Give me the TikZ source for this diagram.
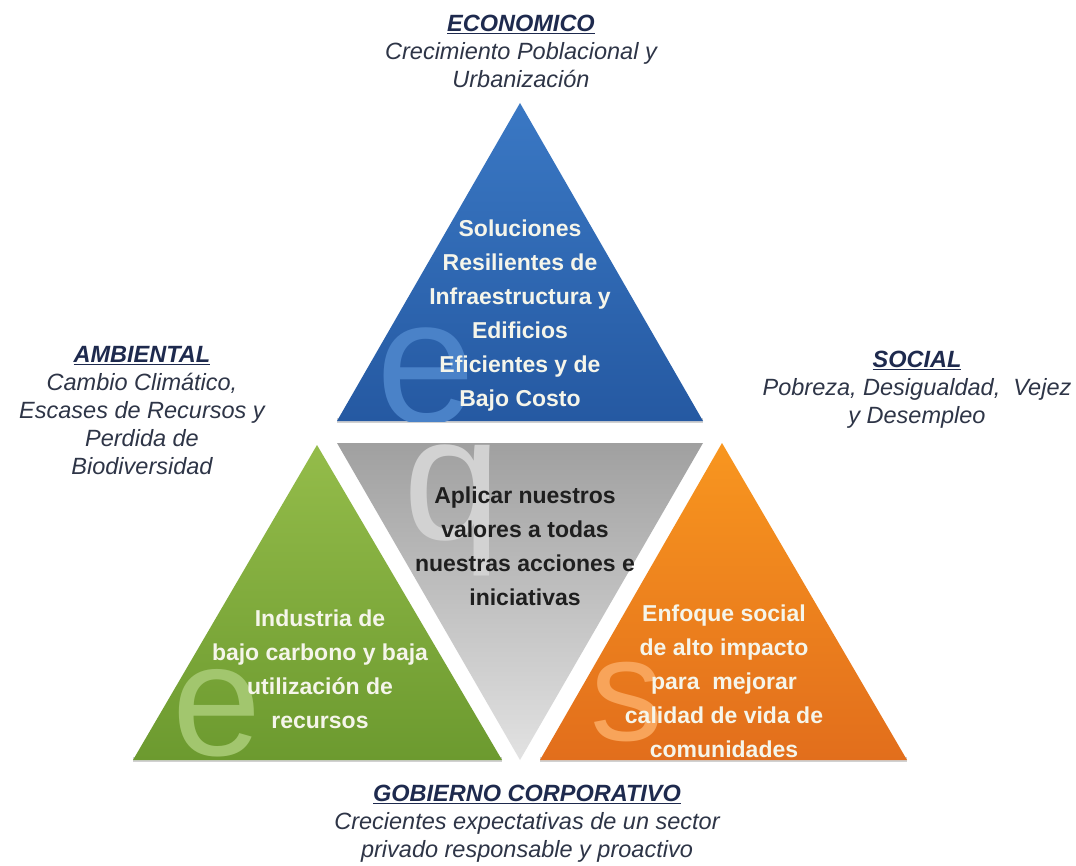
\documentclass[tikz,border=0pt]{standalone}
\usepackage{fontspec}
\setmainfont{Liberation Sans}
\definecolor{blueT}{HTML}{3A78C4}
\definecolor{blueB}{HTML}{2559A2}
\definecolor{grayT}{HTML}{A0A0A0}
\definecolor{grayB}{HTML}{E2E2E2}
\definecolor{greenT}{HTML}{94BC4A}
\definecolor{greenB}{HTML}{6C9A2F}
\definecolor{orangeT}{HTML}{F8961F}
\definecolor{orangeB}{HTML}{E26E1C}
\definecolor{labelc}{HTML}{2E3547}
\definecolor{headc}{HTML}{1E2A4E}
\definecolor{innerw}{HTML}{F5F5EA}
\definecolor{wmblue}{HTML}{4A82C8}
\definecolor{wmgreen}{HTML}{A2C66E}
\definecolor{wmgray}{HTML}{D2D2D2}
\definecolor{wmorange}{HTML}{F8A45A}
\begin{document}
\begin{tikzpicture}[x=1pt,y=-1pt,
  inner/.style={align=center,inner sep=0pt,font=\fontsize{23}{34}\selectfont\bfseries},
  outer/.style={align=center,inner sep=0pt,text=labelc,font=\fontsize{23.5}{28}\selectfont\itshape},
  wm/.style={inner sep=0pt,anchor=base}]
\useasboundingbox (0,0) rectangle (1076,866);
\fill[white] (0,0) rectangle (1076,866);
% corners
\coordinate (bA) at (520,103); \coordinate (bL) at (337,421); \coordinate (bR) at (703,421);
\coordinate (gL) at (337,443); \coordinate (gR) at (703,443); \coordinate (gA) at (520,760);
\coordinate (nA) at (317,445); \coordinate (nL) at (133,760); \coordinate (nR) at (502,760);
\coordinate (oA) at (722,443); \coordinate (oL) at (540,760); \coordinate (oR) at (907,760);
% soft shadows
\fill[black!18] ([yshift=3]bL) -- ([yshift=3]bR) -- ([yshift=-2]bR) -- ([yshift=-2]bL) -- cycle;
\fill[black!18] ([yshift=3]nL) -- ([yshift=3]nR) -- ([yshift=-2]nR) -- ([yshift=-2]nL) -- cycle;
\fill[black!18] ([yshift=3]oL) -- ([yshift=3]oR) -- ([yshift=-2]oR) -- ([yshift=-2]oL) -- cycle;
% triangles
\shade[top color=blueT,bottom color=blueB] (bA) -- (bL) -- (bR) -- cycle;
\shade[top color=grayT,bottom color=grayB] (gL) -- (gR) -- (gA) -- cycle;
\shade[top color=greenT,bottom color=greenB] (nA) -- (nL) -- (nR) -- cycle;
\shade[top color=orangeT,bottom color=orangeB] (oA) -- (oL) -- (oR) -- cycle;
% watermark letters
\begin{scope}
\clip (bA) -- (bL) -- (bR) -- cycle;
\node[wm,text=wmblue,font=\fontsize{178}{178}\selectfont] (we) at (426,423) {e};
\end{scope}
\begin{scope}
\clip (gL) -- (gR) -- (gA) -- cycle;
\node[wm,text=wmgray,font=\fontsize{176}{176}\selectfont] (wq) at (452,539) {q};
\end{scope}
\begin{scope}
\clip (nA) -- (nL) -- (nR) -- cycle;
\node[wm,text=wmgreen,font=\fontsize{160}{160}\selectfont] (wg) at (217,755) {e};
\end{scope}
\begin{scope}
\clip (oA) -- (oL) -- (oR) -- cycle;
\node[wm,text=wmorange,font=\fontsize{146}{146}\selectfont] (ws) at (627,740) {s};
\end{scope}
% inner texts
\node[inner,text=innerw] (tb) at (520,316) {Soluciones\\Resilientes de\\Infraestructura y\\Edificios\\Eficientes y de\\Bajo Costo};
\node[inner,text=black!88] (tg) at (525,546) {Aplicar nuestros\\valores a todas\\nuestras acciones e\\iniciativas};
\node[inner,text=innerw] (tn) at (320,669) {Industria de\\bajo carbono y baja\\utilización de\\recursos};
\node[inner,text=innerw] (to) at (724,681) {Enfoque social\\de alto impacto\\para\ \ mejorar\\calidad de vida de\\comunidades};
% outer labels
\node[outer] (eco) at (521,51) {\textcolor{headc}{\textbf{\underline{ECONOMICO}}}\\Crecimiento Poblacional y\\Urbanización};
\node[outer] (amb) at (142,411) {\textcolor{headc}{\textbf{\underline{AMBIENTAL}}}\\Cambio Climático,\\Escases de Recursos y\\Perdida de\\Biodiversidad};
\node[outer] (soc) at (917,390) {\textcolor{headc}{\textbf{\underline{SOCIAL}}}\\Pobreza, Desigualdad,\ \ Vejez\\y Desempleo};
\node[outer] (gob) at (527,824) {\textcolor{headc}{\textbf{\underline{GOBIERNO CORPORATIVO}}}\\Crecientes expectativas de un sector\\privado responsable y proactivo};
\end{tikzpicture}
\end{document}
